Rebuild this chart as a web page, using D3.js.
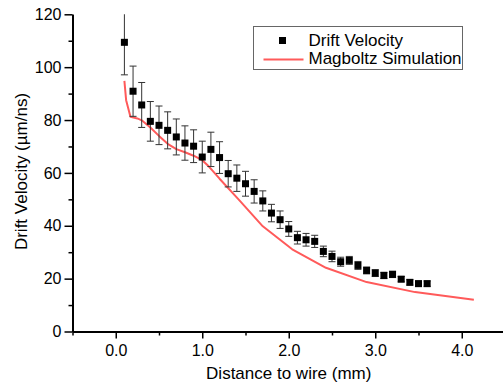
<!DOCTYPE html>
<html>
<head>
<meta charset="utf-8">
<script src="https://cdn.jsdelivr.net/npm/d3@7"></script>
<style>
  body { margin: 0; background: #fff; }
  svg { display: block; font-family: "Liberation Sans", Arial, sans-serif; }
</style>
</head>
<body>
<script>
// measured drift velocity
const distance = [0.1, 0.2, 0.3, 0.4, 0.5, 0.6, 0.7, 0.8, 0.9, 1.0, 1.1, 1.2,
    1.3, 1.4, 1.5, 1.6, 1.7, 1.8, 1.9, 2.0, 2.1, 2.2, 2.3, 2.4,
    2.5, 2.6, 2.7, 2.8, 2.9, 3.0, 3.1, 3.2, 3.3, 3.4, 3.5, 3.6];
const velocity = [109.4, 90.9, 85.7, 79.5, 78.0, 76.1, 73.6, 71.3, 70.1, 66.0, 68.9, 65.8,
    59.7, 58.0, 55.9, 53.0, 49.4, 44.8, 42.3, 38.8, 35.5, 34.7, 34.1, 30.3,
    28.4, 26.4, 26.9, 25.0, 23.1, 22.1, 21.2, 21.6, 19.8, 18.6, 18.1, 18.1];
const velocityErr = [12.3, 9.5, 8.5, 7.5, 7.3, 7.0, 6.8, 6.5, 6.2, 6.0, 6.5, 6.0,
    5.0, 5.0, 4.7, 4.4, 3.8, 3.3, 3.3, 2.8, 2.4, 2.4, 2.3, 2.0,
    2.0, 1.7, 1.5, 1.5, 1.3, 1.3, 1.2, 1.2, 1.0, 1.0, 1.0, 1.0];

// Magboltz simulation curve
const simDistance = [0.1, 0.12, 0.17, 0.25, 0.30, 0.40, 0.50, 0.60, 0.70, 0.80, 0.90,
    1.00, 1.08, 1.20, 1.43, 1.70, 2.04, 2.43, 2.90, 3.46, 4.14];
const simVelocity = [94.8, 87.5, 81.2, 80.6, 79.9, 77.2, 74.0, 71.0, 69.0, 67.8, 66.5,
    64.8, 62.3, 57.8, 49.6, 39.8, 31.1, 24.1, 18.7, 14.9, 12.0];

const xMajor = [0, 1, 2, 3, 4];
const xMinor = [-0.5, 0.5, 1.5, 2.5, 3.5, 4.5];
const yMajor = [0, 20, 40, 60, 80, 100, 120];
const yMinor = [10, 30, 50, 70, 90, 110];

const w = 503, h = 388;
const svg = d3.select("body").append("svg")
    .attr("width", w)
    .attr("height", h);

const xScale = d3.scaleLinear().domain([-0.5, 4.5]).range([72.5, 505]);
const yScale = d3.scaleLinear().domain([0, 120]).range([331.5, 14.3]);

// clip so the first error bar stops at the top of the axis
svg.append("clipPath").attr("id", "plot")
    .append("rect")
    .attr("x", xScale(-0.5)).attr("y", yScale(120))
    .attr("width", w - xScale(-0.5)).attr("height", yScale(0) - yScale(120));

const plot = svg.append("g").attr("clip-path", "url(#plot)");

// simulation line
const line = d3.line()
    .x(d => xScale(d[0]))
    .y(d => yScale(d[1]));

plot.append("path")
    .datum(d3.zip(simDistance, simVelocity))
    .attr("d", line)
    .attr("fill", "none")
    .attr("stroke", "#ff5a5a")
    .attr("stroke-width", 2)
    .attr("stroke-linejoin", "round");

// error bars
const points = distance.map((x, i) => ({ x: x, y: velocity[i], e: velocityErr[i] }));
const cap = 3.5;
const bars = plot.selectAll(".err").data(points).enter().append("g")
    .attr("class", "err")
    .attr("stroke", "#333")
    .attr("stroke-width", 1);
bars.append("line")
    .attr("x1", d => xScale(d.x)).attr("x2", d => xScale(d.x))
    .attr("y1", d => yScale(d.y + d.e)).attr("y2", d => yScale(d.y - d.e));
bars.append("line")
    .attr("x1", d => xScale(d.x) - cap).attr("x2", d => xScale(d.x) + cap)
    .attr("y1", d => yScale(d.y + d.e)).attr("y2", d => yScale(d.y + d.e));
bars.append("line")
    .attr("x1", d => xScale(d.x) - cap).attr("x2", d => xScale(d.x) + cap)
    .attr("y1", d => yScale(d.y - d.e)).attr("y2", d => yScale(d.y - d.e));

// markers
const ms = 7;
plot.selectAll(".pt").data(points).enter().append("rect")
    .attr("class", "pt")
    .attr("x", d => xScale(d.x) - ms / 2)
    .attr("y", d => yScale(d.y) - ms / 2)
    .attr("width", ms)
    .attr("height", ms)
    .attr("fill", "#000");

// axes
const tickFont = "16px";
const titleFont = "17px";
const xAxisMinor = svg.append("g")
    .attr("transform", `translate(0, ${yScale(0)})`)
    .call(d3.axisBottom(xScale).tickValues(xMinor).tickSize(4).tickSizeOuter(0).tickFormat(""));
const xAxis = svg.append("g")
    .attr("transform", `translate(0, ${yScale(0)})`)
    .call(d3.axisBottom(xScale).tickValues(xMajor).tickSize(7).tickSizeOuter(0)
        .tickPadding(6).tickFormat(d3.format(".1f")));
const yAxisMinor = svg.append("g")
    .attr("transform", `translate(${xScale(-0.5)}, 0)`)
    .call(d3.axisLeft(yScale).tickValues(yMinor).tickSize(4).tickSizeOuter(0).tickFormat(""));
const yAxis = svg.append("g")
    .attr("transform", `translate(${xScale(-0.5)}, 0)`)
    .call(d3.axisLeft(yScale).tickValues(yMajor).tickSize(8).tickSizeOuter(0).tickPadding(3));

[xAxis, yAxis, xAxisMinor, yAxisMinor].forEach(a => {
    a.selectAll("text").attr("font-size", tickFont).attr("fill", "#000")
        .attr("font-family", "Liberation Sans, Arial, sans-serif");
    a.selectAll("line").attr("stroke", "#000").attr("stroke-width", 1.5);
    a.select(".domain").attr("stroke", "#000").attr("stroke-width", 2);
});

// axis titles
svg.append("text")
    .attr("x", xScale(2))
    .attr("y", 379)
    .attr("text-anchor", "middle")
    .attr("font-size", titleFont)
    .text("Distance to wire (mm)");

svg.append("text")
    .attr("transform", "translate(26.5, 171.5) rotate(-90)")
    .attr("text-anchor", "middle")
    .attr("font-size", titleFont)
    .text("Drift Velocity (µm/ns)");

// legend
const legend = svg.append("g").attr("transform", "translate(253.5, 26.5)");
legend.append("rect")
    .attr("width", 209).attr("height", 43)
    .attr("fill", "#fff")
    .attr("stroke", "#666")
    .attr("stroke-width", 1);
legend.append("rect")
    .attr("x", 29 - ms / 2).attr("y", 14 - ms / 2)
    .attr("width", ms).attr("height", ms)
    .attr("fill", "#000");
legend.append("text")
    .attr("x", 55).attr("y", 19.5)
    .attr("font-size", titleFont)
    .text("Drift Velocity");
legend.append("line")
    .attr("x1", 10).attr("x2", 50)
    .attr("y1", 33).attr("y2", 33)
    .attr("stroke", "#ff5a5a")
    .attr("stroke-width", 2);
legend.append("text")
    .attr("x", 55).attr("y", 37.5)
    .attr("font-size", titleFont)
    .text("Magboltz Simulation");
</script>
</body>
</html>
